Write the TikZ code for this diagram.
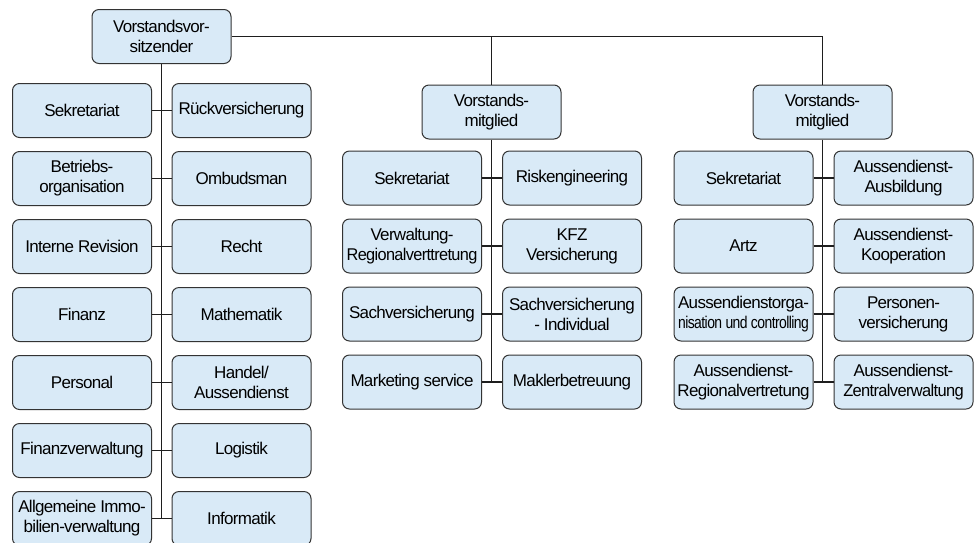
\documentclass[tikz,border=0pt]{standalone}
\usepackage{graphicx}
\usepackage{fontspec}
\setmainfont{Liberation Sans}[LetterSpace=-4]
\definecolor{boxfill}{HTML}{D9EAF7}
\definecolor{boxline}{HTML}{333333}
\definecolor{linkcol}{HTML}{1E1E1E}
\tikzset{
  unit/.style={draw=boxline, fill=boxfill, rounded corners=7pt,
    minimum width=139pt, minimum height=54pt, align=center,
    font=\fontsize{17}{20}\selectfont, inner sep=1pt, line width=1pt},
  link/.style={draw=linkcol, line width=1.9pt}
}
\begin{document}
\begin{tikzpicture}[x=1pt,y=-1pt]
\useasboundingbox (0,0) rectangle (979,542);
% top
\node[unit] (top) at (161.5,36.5) {Vorstandsvor-\\sitzender};
\node[unit] (vm1) at (491.5,112) {Vorstands-\\mitglied};
\node[unit] (vm2) at (822.5,112) {Vorstands-\\mitglied};
% left column
\node[unit] (l1) at (82,110.5) {Sekretariat};
\node[unit] (l2) at (82,178.5) {Betriebs-\\organisation};
\node[unit] (l3) at (82,246.5) {Interne Revision};
\node[unit] (l4) at (82,314.5) {Finanz};
\node[unit] (l5) at (82,382.5) {Personal};
\node[unit] (l6) at (82,450.5) {Finanzverwaltung};
\node[unit] (l7) at (82,518.5) {Allgemeine Immo-\\bilien-verwaltung};
\node[unit] (r1) at (241.5,110.5) {Rückversicherung};
\node[unit] (r2) at (241.5,178.5) {Ombudsman};
\node[unit] (r3) at (241.5,246.5) {Recht};
\node[unit] (r4) at (241.5,314.5) {Mathematik};
\node[unit] (r5) at (241.5,382.5) {Handel/\\Aussendienst};
\node[unit] (r6) at (241.5,450.5) {Logistik};
\node[unit] (r7) at (241.5,518.5) {Informatik};
% middle column
\node[unit] (a1) at (412,178) {Sekretariat};
\node[unit] (a2) at (412,246) {Verwaltung-\\\scalebox{0.96}[1]{Regionalverttretung}};
\node[unit] (a3) at (412,314) {Sachversicherung};
\node[unit] (a4) at (412,382) {Marketing service};
\node[unit] (b1) at (572,178) {Riskengineering};
\node[unit] (b2) at (572,246) {KFZ\\Versicherung};
\node[unit] (b3) at (572,314) {Sachversicherung\\- Individual};
\node[unit] (b4) at (572,382) {Maklerbetreuung};
% right column
\node[unit] (c1) at (743.5,178) {Sekretariat};
\node[unit] (c2) at (743.5,246) {Artz};
\node[unit] (c3) at (743.5,314) {Aussendienstorga-\\\scalebox{0.82}[1]{nisation und controlling}};
\node[unit] (c4) at (743.5,382) {Aussendienst-\\Regionalvertretung};
\node[unit] (d1) at (903.5,178) {Aussendienst-\\Ausbildung};
\node[unit] (d2) at (903.5,246) {Aussendienst-\\Kooperation};
\node[unit] (d3) at (903.5,314) {Personen-\\versicherung};
\node[unit] (d4) at (903.5,382) {Aussendienst-\\\scalebox{0.97}[1]{Zentralverwaltung}};
% connectors
\draw[link] (top.east) -| (vm2.north);
\draw[link] (vm1.north) -- (vm1.north |- top.east);
\draw[link] (top.south) -- (top.south |- l7.east);
\draw[link] (vm1.south) -- (vm1.south |- a4.east);
\draw[link] (vm2.south) -- (vm2.south |- c4.east);
\foreach \i in {1,...,7} { \draw[link] (l\i.east) -- (r\i.west); }
\foreach \i in {1,...,4} { \draw[link] (a\i.east) -- (b\i.west); \draw[link] (c\i.east) -- (d\i.west); }
\end{tikzpicture}
\end{document}
